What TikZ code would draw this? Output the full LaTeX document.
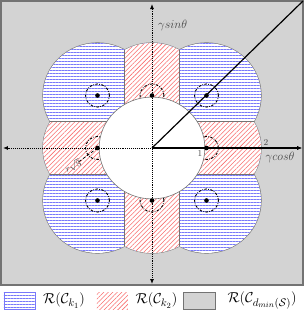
\documentclass[tikz,border=0pt]{standalone}
\usetikzlibrary{patterns.meta,arrows.meta}
\definecolor{hblue}{RGB}{120,120,250}
\definecolor{hred}{RGB}{250,110,110}
\definecolor{bgray}{RGB}{211,211,211}
\definecolor{egray}{RGB}{115,115,115}
\begin{document}
\begin{tikzpicture}[x=54.5pt,y=52.5pt,
  bluehatch/.style={pattern={Lines[angle=0,distance=3pt,line width=0.45pt]},pattern color=hblue},
  redhatch/.style={pattern={Lines[angle=45,distance=3.2pt,line width=0.55pt]},pattern color=hred},
  edge/.style={draw=egray,line width=0.6pt},
  axisdot/.style={densely dotted,line width=0.9pt,{Latex[length=5pt,width=4pt]}-{Latex[length=5pt,width=4pt]}},
  ddcirc/.style={line width=0.9pt,dash pattern=on 2.5pt off 1.4pt on 0.7pt off 1.4pt},
  lbl/.style={text=black!72,inner sep=0pt},
  leg/.style={inner sep=0pt,font=\fontsize{15.5}{18}\selectfont}]
\useasboundingbox (-152pt,148pt) rectangle (153pt,-171pt);
% background box
\fill[bgray] (-151pt,147pt) rectangle (151pt,-137pt);
\draw[egray,line width=1.2pt] (-151pt,147pt) rectangle (151pt,-137pt);
% points
\coordinate (O) at (0,0);
\foreach \n/\x/\y in {a/1/1,b/-1/1,c/-1/-1,d/1/-1,e/1/0,f/0/1,g/-1/0,h/0/-1}
  \coordinate (\n) at (\x,\y);
% outline of union of circles
\draw[egray,line width=1.2pt] foreach \x/\y in {1/1,-1/1,-1/-1,1/-1,1/0,0/1,-1/0,0/-1} {(\x,\y) circle[radius=1]};
\fill[white] foreach \x/\y in {1/1,-1/1,-1/-1,1/-1,1/0,0/1,-1/0,0/-1} {(\x,\y) circle[radius=1]};
\fill[bluehatch] foreach \x/\y in {1/1,-1/1,-1/-1,1/-1,1/0,0/1,-1/0,0/-1} {(\x,\y) circle[radius=1]};
\begin{scope}
  \clip (-0.5,-2.3) rectangle (0.5,2.3) (-2.3,-0.5) rectangle (2.3,0.5);
  \fill[white] foreach \x/\y in {1/1,-1/1,-1/-1,1/-1,1/0,0/1,-1/0,0/-1} {(\x,\y) circle[radius=1]};
  \fill[redhatch] foreach \x/\y in {1/1,-1/1,-1/-1,1/-1,1/0,0/1,-1/0,0/-1} {(\x,\y) circle[radius=1]};
\end{scope}
% region boundaries
\foreach \s in {1,-1}{
  \draw[edge] (0.5*\s,0.5) -- (0.5*\s,1.866);
  \draw[edge] (0.5*\s,-0.5) -- (0.5*\s,-1.866);
  \draw[edge] (0.5,0.5*\s) -- (1.866,0.5*\s);
  \draw[edge] (-0.5,0.5*\s) -- (-1.866,0.5*\s);
}
% dash-dot circles
\foreach \n in {a,b,c,d,e,f,g,h}
  \draw[ddcirc] (\n) circle[radius=0.22];
% central white disc
\filldraw[fill=white,edge] (O) circle[radius=0.97];
% axes
\coordinate (L) at (-149pt,0);
\coordinate (R) at (150pt,0);
\coordinate (T) at (0,144pt);
\coordinate (B) at (0,-136pt);
\coordinate (TR) at (151pt,147pt);
\draw[axisdot] (L) -- (R);
\draw[axisdot] (B) -- (T);
\draw[line width=1.2pt,-{Latex[length=5pt,width=4pt]}] (O) -- (R);
\draw[line width=1.2pt] (O) -- (TR);
% radius marker
\coordinate (rq) at (-1.38,-0.29);
\draw[densely dashed,line width=0.7pt] (g) -- (rq);
% dots
\foreach \n in {a,b,c,d,e,f,g,h}
  \fill (\n) circle[radius=2.3pt];
% labels
\node[lbl,font=\large] (ys) at (0.38,2.34) {$\gamma sin\theta$};
\node[lbl,font=\large] (yc) at (2.35,-0.19) {$\gamma cos\theta$};
\node[lbl,font=\small] (l2) at (2.09,0.11) {$2$};
\node[lbl,font=\small] (l1) at (0.88,-0.11) {$1$};
\node[lbl,font=\small,rotate=28] (r3) at (-1.45,-0.34) {$r\sqrt{3}$};
% legend
\filldraw[draw=hblue,fill=white,line width=0.6pt] (-148pt,-144pt) rectangle (-117pt,-161pt);
\fill[bluehatch] (-148pt,-144pt) rectangle (-117pt,-161pt);
\fill[white] (-55pt,-144pt) rectangle (-24pt,-161pt);
\fill[redhatch] (-55pt,-144pt) rectangle (-24pt,-161pt);
\filldraw[fill=bgray,draw=egray,line width=1pt] (32pt,-144pt) rectangle (64pt,-161pt);
\node[leg] (t1) at (-88pt,-152.5pt) {$\mathcal{R}(\mathcal{C}_{k_1})$};
\node[leg] (t2) at (4.5pt,-152.5pt) {$\mathcal{R}(\mathcal{C}_{k_2})$};
\node[leg] (t3) at (110pt,-152.5pt) {$\mathcal{R}(\mathcal{C}_{d_{min}(\mathcal{S})})$};
\end{tikzpicture}
\end{document}
